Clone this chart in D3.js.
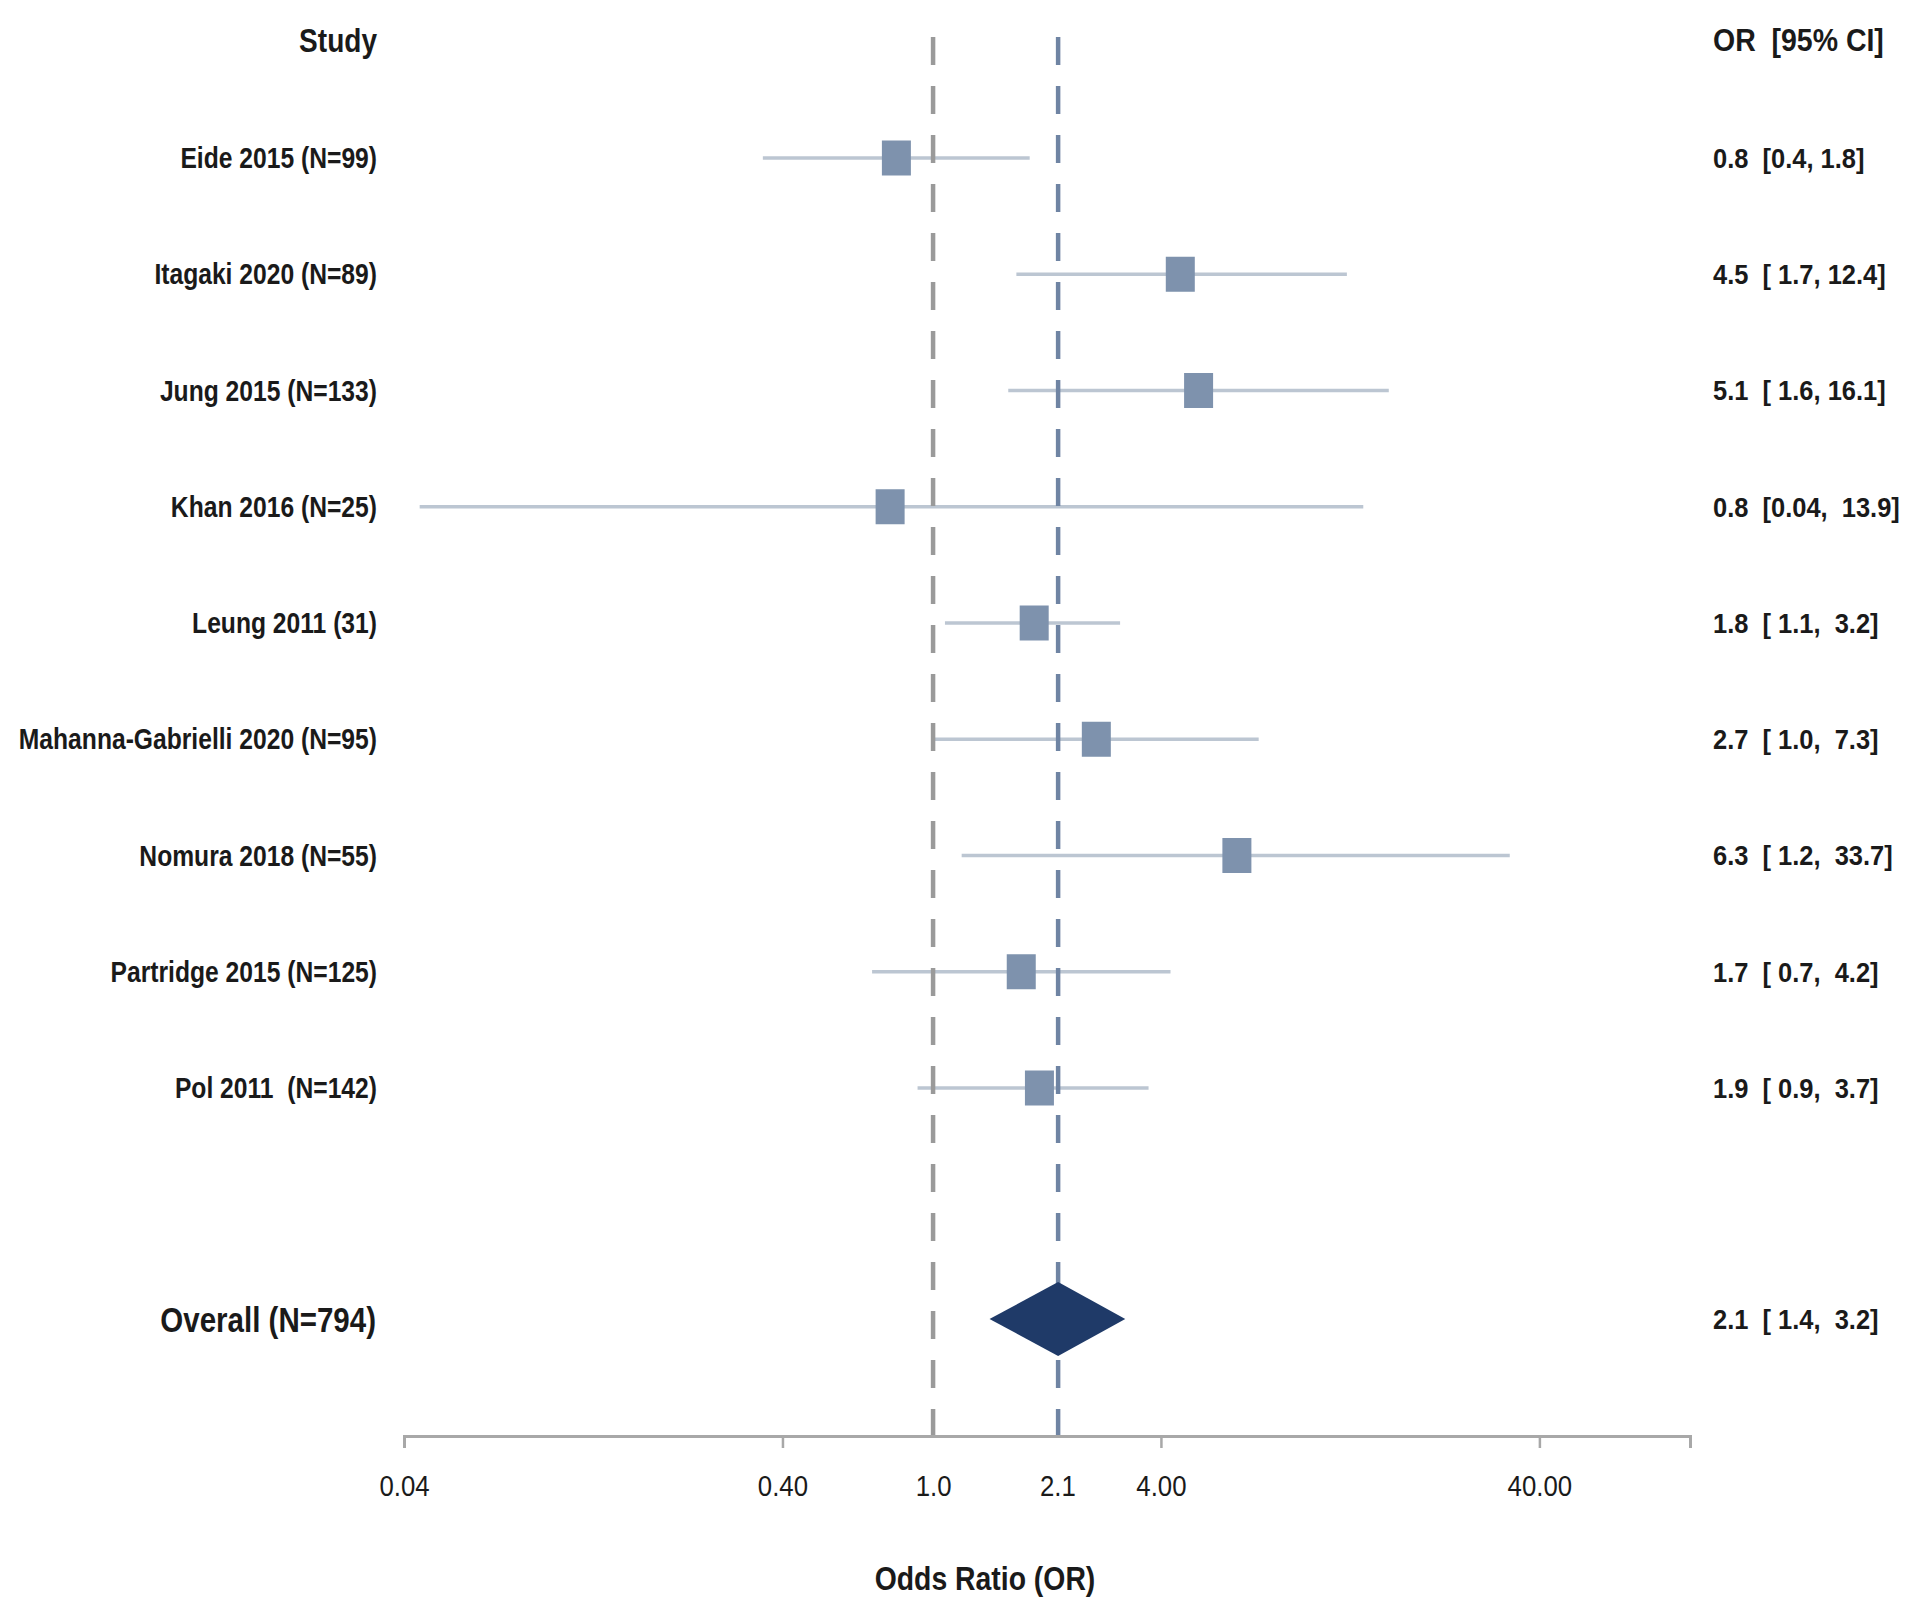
<!DOCTYPE html>
<html><head><meta charset="utf-8">
<script src="https://cdn.jsdelivr.net/npm/d3@7"></script>
<style>
body{margin:0;background:#fff;}
text{font-family:"Liberation Sans Narrow","Liberation Sans",Arial,sans-serif;fill:#1a1a1a;white-space:pre;}
</style></head>
<body><svg id="c" width="1920" height="1619"></svg>
<script>
const studies = ["Eide 2015 (N=99)","Itagaki 2020 (N=89)","Jung 2015 (N=133)","Khan 2016 (N=25)","Leung 2011 (31)","Mahanna-Gabrielli 2020 (N=95)","Nomura 2018 (N=55)","Partridge 2015 (N=125)","Pol 2011  (N=142)"];
const orValues = [0.80,4.5,5.03,0.77,1.85,2.7,6.35,1.71,1.91];
const ciLow = [0.355,1.66,1.58,0.044,1.075,1.0,1.19,0.69,0.91];
const ciHigh = [1.8,12.4,16.0,13.7,3.12,7.25,33.4,4.24,3.71];
const orLabels = ["0.8  [0.4, 1.8]","4.5  [ 1.7, 12.4]","5.1  [ 1.6, 16.1]","0.8  [0.04,  13.9]","1.8  [ 1.1,  3.2]","2.7  [ 1.0,  7.3]","6.3  [ 1.2,  33.7]","1.7  [ 0.7,  4.2]","1.9  [ 0.9,  3.7]"];
const overallLabel = "Overall (N=794)";
const overall = {or:2.14, lo:1.41, hi:3.22};
const overallText = "2.1  [ 1.4,  3.2]";
const tickValues = [0.04,0.4,1.0,2.13,4,40];
const tickLabels = ["0.04","0.40","1.0","2.1","4.00","40.00"];
const tickMarked = [0.04,0.4,4,40];
const refLines = [1.0,2.14];

const svg = d3.select("#c");
const x = d3.scaleLog().domain([0.04,100]).range([404,1690]);
const rowY = d3.scalePoint().domain(d3.range(studies.length)).range([158,1088]);
const overallY = 1319;
const axisY = 1436;

// CI lines
svg.append("g").selectAll("line").data(studies).join("line")
  .attr("x1",(d,i)=>x(ciLow[i])).attr("x2",(d,i)=>x(ciHigh[i]))
  .attr("y1",(d,i)=>rowY(i)).attr("y2",(d,i)=>rowY(i))
  .attr("stroke","#bcc6d2").attr("stroke-width",3.5);

// reference dashed lines
const refColors = ["#9a9a9a","#6f84a3"];
svg.append("g").selectAll("line").data(refLines).join("line")
  .attr("x1",d=>x(d)).attr("x2",d=>x(d)).attr("y1",37).attr("y2",axisY)
  .attr("stroke",(d,i)=>refColors[i]).attr("stroke-width",4.5)
  .attr("stroke-dasharray","28,21");

// squares
const sw=29, sh=35;
svg.append("g").selectAll("rect").data(studies).join("rect")
  .attr("x",(d,i)=>x(orValues[i])-sw/2).attr("y",(d,i)=>rowY(i)-sh/2)
  .attr("width",sw).attr("height",sh).attr("fill","#7e92ad");

// diamond
svg.append("path")
  .attr("d",`M${x(overall.lo)},${overallY} L${x(overall.or)},${overallY-37} L${x(overall.hi)},${overallY} L${x(overall.or)},${overallY+37} Z`)
  .attr("fill","#1f3a68");

// axis
const axis = d3.axisBottom(x).tickValues(tickValues).tickFormat((d,i)=>tickLabels[i]).tickSizeOuter(0).tickSize(12);
const ag = svg.append("g").attr("transform",`translate(0,${axisY})`).call(axis);
ag.select(".domain").attr("stroke","#a8a8a8").attr("stroke-width",3);
ag.selectAll(".tick line").attr("stroke","#a8a8a8").attr("stroke-width",2.5)
  .attr("display",d=>tickMarked.includes(d)?null:"none");
ag.selectAll(".tick text").attr("y",0).attr("dy","0.35em")
  .attr("transform","translate(0,49) scale(0.86,1)")
  .style("font-size","30px").style("fill","#1a1a1a")
  .style("font-family",'"Liberation Sans Narrow","Liberation Sans",sans-serif');

function label(g, tx, ty, txt, size, sx, anchor, weight){
  return g.append("text").attr("transform",`translate(${tx},${ty}) scale(${sx},1)`)
    .attr("dy","0.35em").attr("text-anchor",anchor)
    .style("font-size",size+"px").style("font-weight",weight).text(txt);
}

// labels left
label(svg,377,40,"Study",33,0.85,"end","bold");
const lg = svg.append("g");
studies.forEach((s,i)=>label(lg,377,rowY(i),s,29,0.85,"end","bold"));
label(svg,376,overallY,overallLabel,36,0.82,"end","bold");

// labels right
label(svg,1713,40,"OR  [95% CI]",32,0.89,"start","bold");
const rg = svg.append("g");
orLabels.forEach((s,i)=>label(rg,1713,rowY(i),s,28,0.91,"start","bold"));
label(svg,1713,overallY,overallText,28,0.91,"start","bold");

// axis title
label(svg,985,1578,"Odds Ratio (OR)",33,0.86,"middle","bold");
</script></body></html>
